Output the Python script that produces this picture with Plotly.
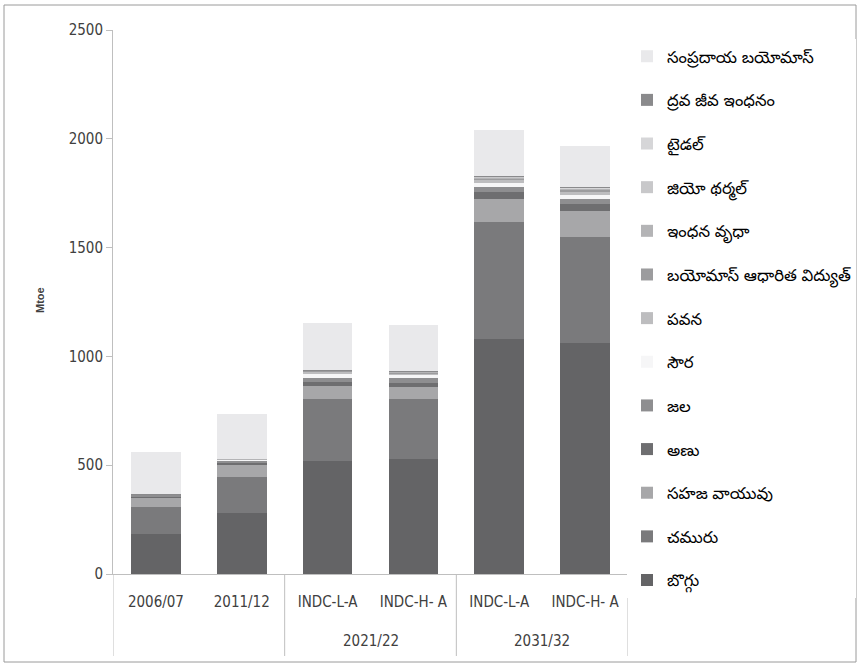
import plotly.graph_objects as go

groups = ["", "", "2021/22", "2021/22", "2031/32", "2031/32"]
scenarios = ["2006/07", "2011/12", "INDC-L-A", "INDC-H- A", "INDC-L-A", "INDC-H- A"]

series_names = [
    "బొగ్గు", "చమురు", "సహజ వాయువు", "అణు", "జల", "సౌర", "పవన",
    "బయోమాస్ ఆధారిత విద్యుత్", "ఇంధన వృధా", "జియో థర్మల్", "టైడల్",
    "ద్రవ జీవ ఇంధనం", "సంప్రదాయ బయోమాస్",
]

coal = [183, 282, 520, 528, 1080, 1061]
oil = [127, 163, 284, 276, 536, 490]
gas = [43, 57, 58, 55, 108, 115]
nuclear = [4, 9, 20, 21, 30, 33]
hydro = [7, 12, 19, 20, 23, 25]
solar = [0.5, 1, 20, 15, 20, 18]
wind = [1, 2, 8, 8, 14, 16]
biomass_power = [1, 2, 4, 4, 8, 9]
fuel_waste = [0.5, 1, 2, 2, 4, 4]
geothermal = [0, 0, 1, 1, 2, 2]
tidal = [0, 0, 0.5, 0.5, 1, 1]
liquid_biofuel = [0.5, 1, 2.5, 2.5, 5, 6]
trad_biomass = [192, 206, 215, 212, 210, 187]

series_values = [coal, oil, gas, nuclear, hydro, solar, wind, biomass_power,
                 fuel_waste, geothermal, tidal, liquid_biofuel, trad_biomass]

colors = ["#646466", "#7a7a7c", "#a7a7a9", "#6e6e70", "#8e8e90", "#f6f6f7",
          "#bdbdbf", "#9c9c9e", "#b4b4b6", "#c8c8ca", "#d6d6d8", "#8a8a8c",
          "#e9e9eb"]

y_ticks = [0, 500, 1000, 1500, 2000, 2500]

# unique category keys (group + scenario), displayed with scenario labels
cat_keys = [f"{g}|{s}" for g, s in zip(groups, scenarios)]

fig = go.Figure()
for i, (name, vals, col) in enumerate(zip(series_names, series_values, colors)):
    fig.add_trace(go.Bar(
        x=cat_keys, y=vals, name=name,
        marker=dict(color=col, line=dict(width=0)),
        legendgroup=f"g{i}", legendrank=1000 - i,
    ))

W, H = 859, 667
L, R, T, B = 113, 231, 30, 93
pw, ph = W - L - R, H - T - B

def px_x(x):
    return (x - L) / pw

def px_y(y):
    return (H - B - y) / ph

tick_font = "DejaVu Sans Condensed, Liberation Sans Narrow, Liberation Sans, Arial"

fig.update_layout(
    width=W, height=H,
    margin=dict(l=L, r=R, t=T, b=B, autoexpand=False),
    barmode="stack", bargap=0.42,
    plot_bgcolor="white", paper_bgcolor="white",
    font=dict(family=tick_font, color="#404040", size=15),
    legend=dict(
        x=px_x(627), xanchor="left", y=px_y(39), yanchor="top",
        traceorder="grouped", tracegroupgap=19.2, maxheight=660,
        font=dict(family="Noto Sans Telugu, Noto Sans, sans-serif", size=16.5, color="#000000"),
        itemwidth=30,
    ),
    showlegend=True,
)
fig.update_yaxes(
    range=[0, 2500], tickvals=y_ticks, ticktext=[str(v) for v in y_ticks],
    showgrid=False, showline=True, linecolor="#bfbfbf", linewidth=1,
    ticks="outside", ticklen=6, tickcolor="#bfbfbf", zeroline=False,
    tickfont=dict(size=15, color="#404040", family=tick_font),
)
fig.update_xaxes(
    type="category", tickvals=cat_keys, ticktext=scenarios,
    range=[-0.5, len(cat_keys) - 0.5],
    showgrid=False, showline=True, linecolor="#bfbfbf", linewidth=1,
    ticks="", ticklabelstandoff=14,
    tickfont=dict(size=15, color="#404040", family=tick_font),
)

# group labels under the scenario labels
for g in ["2021/22", "2031/32"]:
    idx = [k for k, gg in enumerate(groups) if gg == g]
    fig.add_annotation(
        text=g, xref="x", yref="paper", x=sum(idx) / len(idx), y=px_y(641),
        showarrow=False, yanchor="middle",
        font=dict(size=15, color="#404040", family=tick_font),
    )

# dividers between groups
bounds = [-0.5]
for k in range(1, len(groups)):
    if groups[k] != groups[k - 1]:
        bounds.append(k - 0.5)
bounds.append(len(groups) - 0.5)
for b in bounds:
    fig.add_shape(type="line", xref="x", yref="paper", x0=b, x1=b,
                  y0=0, y1=px_y(656), line=dict(color="#bfbfbf", width=1))

fig.add_annotation(
    text="<b>Mtoe</b>", textangle=-90, xref="paper", yref="paper",
    x=px_x(40), y=px_y(300), xanchor="center", yanchor="middle", showarrow=False,
    font=dict(size=11, color="#404040", family="Liberation Sans, Arial"),
)
fig.add_shape(
    type="rect", xref="paper", yref="paper",
    x0=px_x(4), x1=px_x(856), y0=px_y(662), y1=px_y(5),
    line=dict(color="#9a9a9a", width=1), fillcolor="rgba(0,0,0,0)",
)
fig.write_html("out.html", config={"displayModeBar": False},
               post_script="document.body.style.margin='0';")
